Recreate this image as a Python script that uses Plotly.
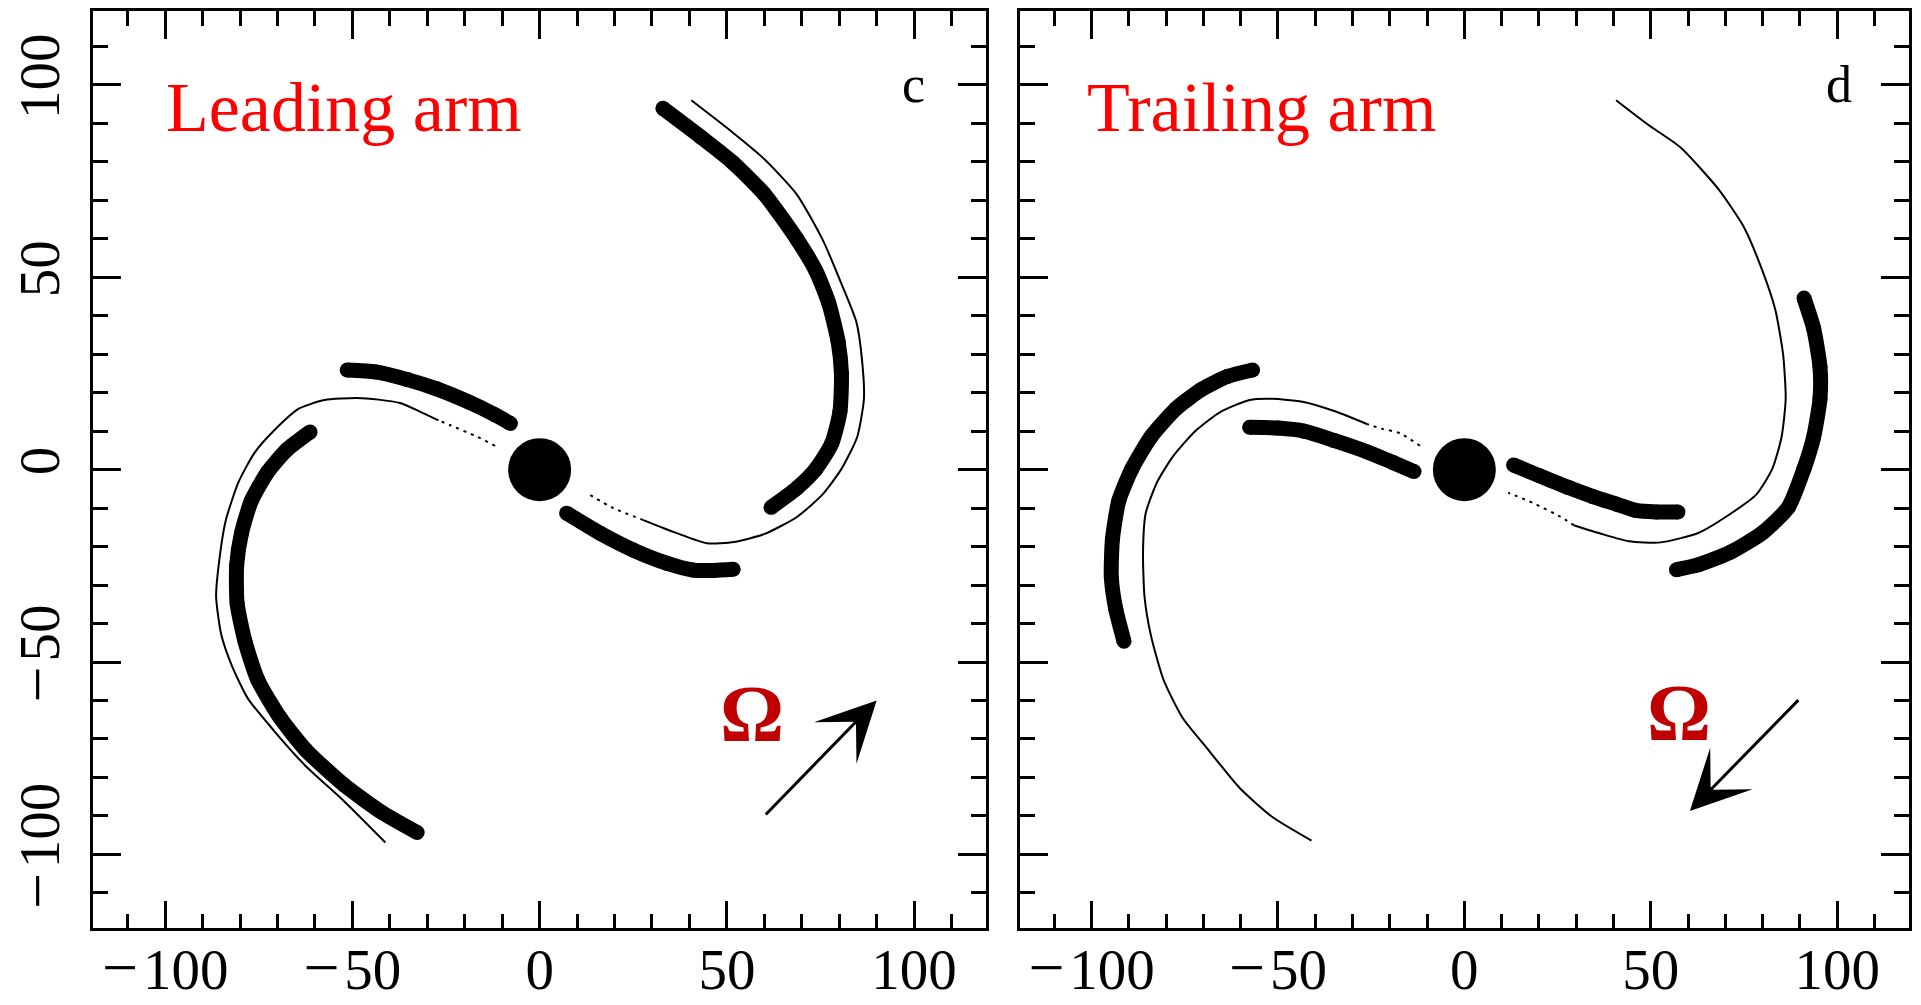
import plotly.graph_objects as go

# ---------------- data ----------------
# Panel c: "Leading arm"
c_thick_ne_x = [32.9, 43.1, 51.6, 60.1, 68.7, 73.8, 77.2, 79.7, 80.6, 80.2, 78.0, 73.8, 68.7, 61.8]
c_thick_ne_y = [93.9, 86.4, 79.8, 71.5, 59.9, 51.6, 43.3, 33.3, 25.0, 15.1, 6.8, 0.2, -4.8, -9.8]
c_thick_sw_x = [-61.3, -67.6, -72.7, -77.0, -79.6, -80.9, -80.8, -78.7, -75.3, -69.3, -62.5, -52.3, -42.1, -32.7]
c_thick_sw_y = [9.8, 5.1, -0.7, -8.1, -16.4, -24.7, -34.7, -44.6, -54.6, -64.5, -72.8, -81.9, -89.1, -94.3]
c_inner_nw_x = [-51.4, -43.8, -35.3, -27.5, -19.0, -12.0, -7.8]
c_inner_nw_y = [25.9, 25.4, 23.4, 21.0, 17.6, 14.3, 12.0]
c_inner_se_x = [7.2, 16.1, 25.0, 33.9, 41.0, 46.5, 51.7]
c_inner_se_y = [-11.3, -16.5, -20.9, -24.3, -26.1, -26.2, -25.9]
c_thin_ne_x = [40.5, 49.9, 60.1, 68.7, 75.5, 80.6, 84.6, 86.1, 86.6, 84.8, 80.6, 75.5, 68.7, 60.1, 52.0, 44.6, 36.6, 27.7]
c_thin_ne_y = [96.0, 88.9, 80.6, 71.5, 59.9, 48.3, 38.3, 28.4, 18.4, 8.5, 0.2, -6.5, -12.3, -16.7, -18.8, -19.1, -16.5, -13.1]
c_thin_dot_se_x = [27.7, 19.7, 12.6]
c_thin_dot_se_y = [-13.1, -10.0, -6.1]
c_thin_dot_nw_x = [-11.9, -16.8, -24.0, -27.0]
c_thin_dot_nw_y = [6.2, 8.6, 11.6, 12.8]
c_thin_sw_x = [-27.0, -32.0, -37.3, -43.0, -48.9, -57.4, -64.2, -71.0, -76.2, -80.4, -83.8, -85.5, -86.4, -85.0, -82.1, -77.9, -71.0, -62.5, -52.3, -41.2]
c_thin_sw_y = [12.8, 15.1, 17.3, 18.2, 18.6, 18.1, 15.9, 10.1, 4.3, -3.2, -13.1, -23.1, -33.0, -43.0, -51.2, -59.5, -67.8, -77.0, -86.1, -96.9]
c_arrow_tail = [60.0, -90.0]
c_arrow_tip = [90.0, -60.0]

# Panel d: "Trailing arm"
d_thick_e_x = [91.1, 93.7, 95.4, 95.4, 93.7, 91.1, 86.9, 80.0, 71.5, 62.9, 56.9]
d_thick_e_y = [44.6, 36.7, 26.7, 18.4, 8.5, 0.2, -9.8, -16.4, -21.4, -24.7, -26.0]
d_thick_w_x = [-56.8, -63.6, -70.4, -77.3, -84.1, -89.2, -92.7, -94.4, -94.7, -93.5, -91.3]
d_thick_w_y = [25.9, 24.2, 20.9, 15.9, 8.5, 0.2, -8.1, -18.1, -28.0, -36.3, -44.6]
d_inner_w_x = [-57.6, -50.0, -43.0, -35.0, -26.0, -19.0, -13.5]
d_inner_w_y = [11.0, 10.8, 10.0, 7.6, 4.6, 1.8, -0.5]
d_inner_e_x = [13.2, 20.2, 27.8, 34.5, 40.9, 46.0, 51.5, 57.3]
d_inner_e_y = [1.2, -1.6, -4.6, -7.0, -9.0, -10.6, -11.0, -11.0]
d_thin_ne_x = [40.7, 49.2, 57.8, 68.0, 74.9, 80.0, 83.4, 85.5, 86.2, 85.1, 82.6, 78.3, 71.5, 62.9, 52.7, 44.1, 36.5, 29.5]
d_thin_ne_y = [96.0, 89.7, 83.9, 73.1, 63.2, 51.6, 41.6, 30.0, 18.4, 8.5, 0.2, -6.5, -11.4, -16.4, -18.9, -18.6, -16.6, -14.5]
d_thin_dot_se_x = [29.5, 25.7, 18.5, 11.8]
d_thin_dot_se_y = [-14.5, -12.2, -8.7, -6.0]
d_thin_dot_nw_x = [-11.9, -17.3, -22.0, -26.0]
d_thin_dot_nw_y = [6.2, 9.5, 10.6, 11.8]
d_thin_sw_x = [-26.0, -34.5, -43.1, -51.6, -57.6, -65.3, -72.1, -78.1, -82.4, -85.5, -86.2, -85.8, -84.1, -80.7, -75.6, -68.7, -60.2, -51.6, -41.0]
d_thin_sw_y = [11.8, 15.1, 17.6, 18.4, 18.1, 15.1, 10.1, 3.5, -3.2, -11.4, -21.4, -33.0, -43.0, -54.6, -64.5, -72.8, -82.8, -90.2, -96.4]
d_arrow_tail = [90.0, -59.5]
d_arrow_tip = [60.5, -88.7]

core_x = [0.0]
core_y = [0.0]

panel_titles = ["Leading arm", "Trailing arm"]
panel_letters = ["c", "d"]
tick_vals = [-100, -50, 0, 50, 100]
MINUS = "<span style='font-size:64px'>\u2212</span>\u200a"
tick_text = [MINUS + "100", MINUS + "50", "0", "50", "100"]
minor_vals = [-110, -90, -80, -70, -60, -40, -30, -20, -10, 10, 20, 30, 40, 60, 70, 80, 90, 110]

# ---------------- figure ----------------
W, H = 1921, 1005
THICK = 15
THIN = 2
fig = go.Figure()


def thick(x, y, xa, ya):
    fig.add_trace(go.Scatter(x=x, y=y, mode="lines+markers", xaxis=xa, yaxis=ya,
                             line=dict(color="black", width=THICK, shape="spline", smoothing=0.6),
                             marker=dict(color="black", size=THICK), hoverinfo="skip"))


def thin(x, y, xa, ya, dash="solid"):
    fig.add_trace(go.Scatter(x=x, y=y, mode="lines", xaxis=xa, yaxis=ya,
                             line=dict(color="black", width=THIN, dash=dash, shape="spline", smoothing=0.6),
                             hoverinfo="skip"))


panels = [
    ("x", "y", [(c_thick_ne_x, c_thick_ne_y), (c_thick_sw_x, c_thick_sw_y),
                (c_inner_nw_x, c_inner_nw_y), (c_inner_se_x, c_inner_se_y)],
     [(c_thin_ne_x, c_thin_ne_y), (c_thin_sw_x, c_thin_sw_y)],
     [(c_thin_dot_se_x, c_thin_dot_se_y), (c_thin_dot_nw_x, c_thin_dot_nw_y)]),
    ("x2", "y2", [(d_thick_e_x, d_thick_e_y), (d_thick_w_x, d_thick_w_y),
                  (d_inner_w_x, d_inner_w_y), (d_inner_e_x, d_inner_e_y)],
     [(d_thin_ne_x, d_thin_ne_y), (d_thin_sw_x, d_thin_sw_y)],
     [(d_thin_dot_se_x, d_thin_dot_se_y), (d_thin_dot_nw_x, d_thin_dot_nw_y)]),
]

for xa, ya, thicks, thins, dots in panels:
    for x, y in thins:
        thin(x, y, xa, ya)
    for x, y in dots:
        thin(x, y, xa, ya, dash="3px,5px")
    for x, y in thicks:
        thick(x, y, xa, ya)
    fig.add_trace(go.Scatter(x=core_x, y=core_y, mode="markers", xaxis=xa, yaxis=ya,
                             marker=dict(color="black", size=63, line=dict(width=0)),
                             hoverinfo="skip"))

RANGE = [-119.2, 119.2]
axis_common = dict(
    range=RANGE, showgrid=False, zeroline=False, showline=True, linecolor="black",
    linewidth=2.5, mirror="allticks", ticks="inside", ticklen=28, tickwidth=2.5,
    tickcolor="black", tickmode="array", tickvals=tick_vals, ticktext=tick_text,
    tickfont=dict(family="Liberation Serif", size=57, color="black"),
    minor=dict(tickmode="array", tickvals=minor_vals, ticks="inside", ticklen=15,
               tickwidth=2.5, tickcolor="black", showgrid=False),
    automargin=False, fixedrange=True,
)

xd1 = [93.3 / W, 986.0 / W]
xd2 = [1020.0 / W, 1908.7 / W]
yd = [1 - 928.3 / H, 1 - 11.0 / H]

fig.update_layout(
    width=W, height=H, margin=dict(l=0, r=0, t=0, b=0),
    paper_bgcolor="white", plot_bgcolor="white", showlegend=False,
    xaxis=dict(domain=xd1, anchor="y", ticklabelstandoff=-10, **axis_common),
    yaxis=dict(domain=yd, anchor="x", tickangle=-90, ticklabelstandoff=9, **axis_common),
    xaxis2=dict(domain=xd2, anchor="y2", ticklabelstandoff=-10, **axis_common),
    yaxis2=dict(domain=yd, anchor="x2", showticklabels=False, **axis_common),
)

annotations = []
title_pos = [(-100.3, 94.0, "x", "y"), (-101.8, 94.0, "x2", "y2")]
letter_pos = [(99.9, 100.2, "x", "y"), (100.6, 100.2, "x2", "y2")]
omega_pos = [(56.7, -63.6, "x", "y"), (57.6, -63.2, "x2", "y2")]
arrows = [(c_arrow_tail, c_arrow_tip, "x", "y"), (d_arrow_tail, d_arrow_tip, "x2", "y2")]

for (tx, ty, xr, yr), text in zip(title_pos, panel_titles):
    annotations.append(dict(x=tx, y=ty, xref=xr, yref=yr, text=text, showarrow=False,
                            xanchor="left", yanchor="middle",
                            font=dict(family="Liberation Serif", size=70, color="#FF0000")))
for (tx, ty, xr, yr), text in zip(letter_pos, panel_letters):
    annotations.append(dict(x=tx, y=ty, xref=xr, yref=yr, text=text, showarrow=False,
                            xanchor="center", yanchor="middle",
                            font=dict(family="Liberation Serif", size=52, color="black")))
for tx, ty, xr, yr in omega_pos:
    annotations.append(dict(x=tx, y=ty, xref=xr, yref=yr, text="<b>\u03a9</b>", showarrow=False,
                            xanchor="center", yanchor="middle",
                            font=dict(family="Liberation Serif", size=80, color="#C00000")))
for tail, tip, xr, yr in arrows:
    annotations.append(dict(x=tip[0], y=tip[1], ax=tail[0], ay=tail[1], xref=xr, yref=yr,
                            axref=xr, ayref=yr, text="", showarrow=True, arrowhead=3,
                            arrowsize=3.3, arrowwidth=3, arrowcolor="black", standoff=0))

fig.update_layout(annotations=annotations)
fig.write_html("out.html", config={"displayModeBar": False},
               post_script="document.body.style.margin='0';document.body.style.overflow='hidden';")
